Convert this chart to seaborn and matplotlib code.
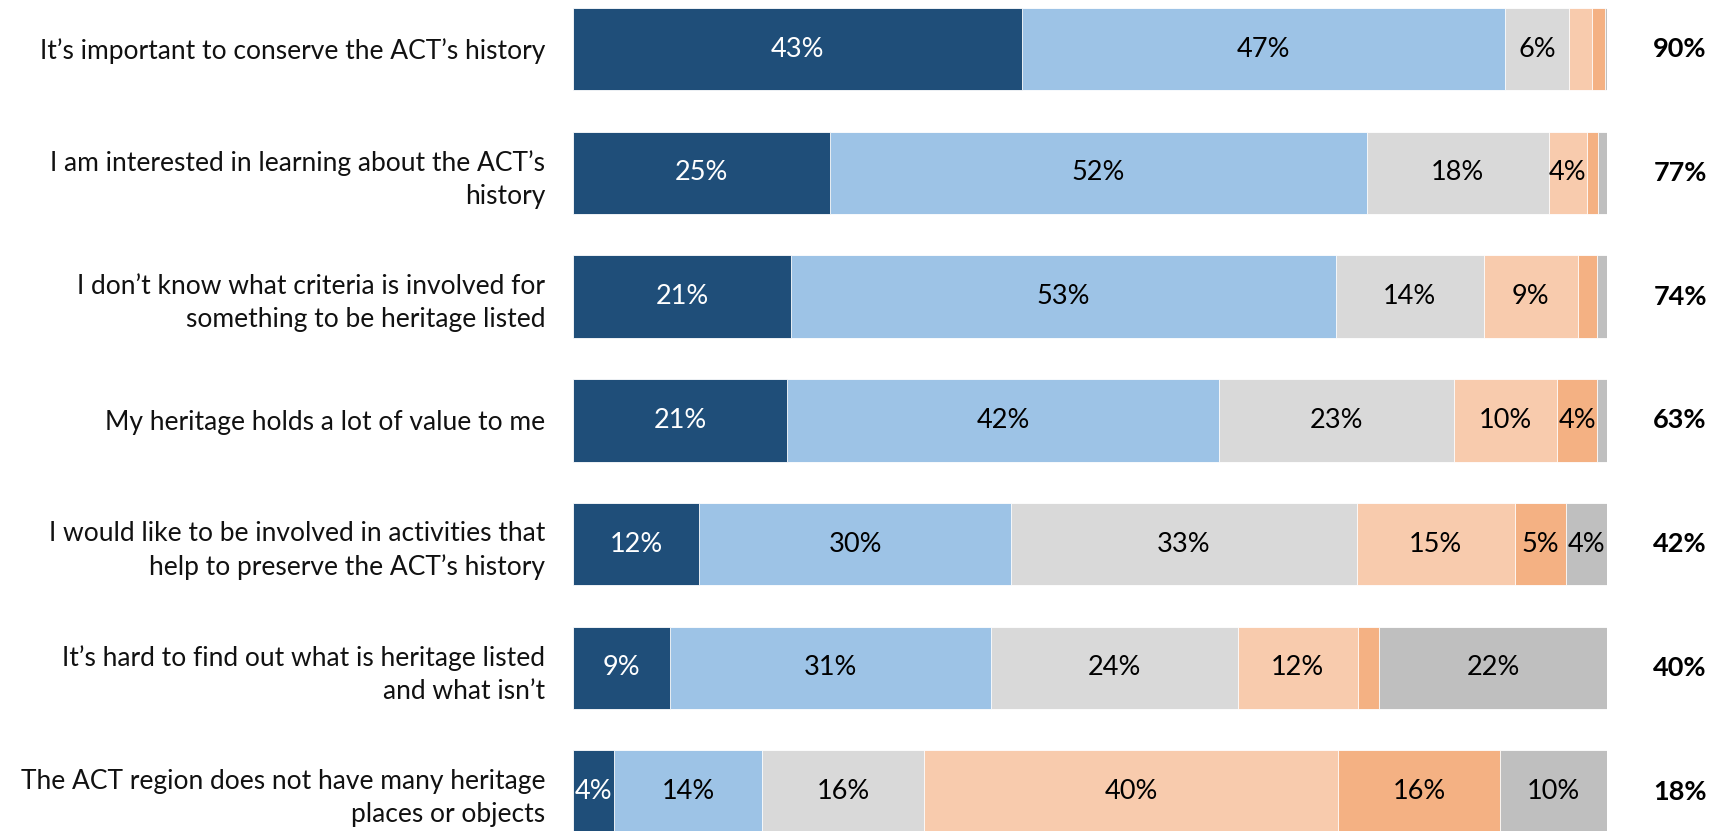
import matplotlib
matplotlib.use("Agg")
import matplotlib.pyplot as plt
import seaborn as sns
import pandas as pd
import numpy as np

categories = [
    "It’s important to conserve the ACT’s history",
    "I am interested in learning about the ACT’s\nhistory",
    "I don’t know what criteria is involved for\nsomething to be heritage listed",
    "My heritage holds a lot of value to me",
    "I would like to be involved in activities that\nhelp to preserve the ACT’s history",
    "It’s hard to find out what is heritage listed\nand what isn’t",
    "The ACT region does not have many heritage\nplaces or objects",
]
strongly_agree = [43.4, 24.9, 21.1, 20.7, 12.2, 9.4, 4.0]
agree = [46.8, 51.9, 52.7, 41.8, 30.2, 31.0, 14.3]
neutral = [6.2, 17.6, 14.3, 22.7, 33.4, 23.9, 15.7]
disagree = [2.2, 3.7, 9.1, 10.0, 15.3, 11.6, 40.0]
strongly_disagree = [1.2, 1.1, 1.9, 3.9, 5.0, 2.1, 15.7]
dont_know = [0.2, 0.8, 0.9, 0.9, 3.9, 22.0, 10.3]
net_agree = [90, 77, 74, 63, 42, 40, 18]

series = [strongly_agree, agree, neutral, disagree, strongly_disagree, dont_know]
colors = ["#1F4E79", "#9DC3E6", "#D9D9D9", "#F8CBAD", "#F4B183", "#BFBFBF"]
text_colors = ["white", "black", "black", "black", "black", "black"]

sns.set_theme(style="white")
plt.rcParams["font.family"] = ["Lato", "DejaVu Sans"]

W, H = 1724, 831
fig = plt.figure(figsize=(W / 100, H / 100), dpi=100)
ax = fig.add_axes([573 / W, 0, (1606.7 - 573) / W, 1])

vals = np.array(series)
cum = np.cumsum(vals, axis=0)

# draw cumulative layers from the longest to the shortest
for k in range(len(series) - 1, -1, -1):
    df = pd.DataFrame({"cat": categories, "x": cum[k]})
    sns.barplot(data=df, x="x", y="cat", orient="h", color=colors[k],
                width=0.667, edgecolor="white", linewidth=0.6,
                saturation=1, ax=ax, order=categories)

for k in range(len(series)):
    for i in range(len(categories)):
        v = vals[k, i]
        if v >= 3.5:
            ax.text(cum[k, i] - v / 2, i, f"{round(v)}%", ha="center", va="center",
                    color=text_colors[k], fontsize=19.5)

for i, n in enumerate(net_agree):
    ax.text(107.1, i, f"{n}%", ha="center", va="center", fontsize=19.5,
            fontweight="bold", color="black", clip_on=False)

ax.set_xlim(0, 100)
ax.set_ylim(6.317, -0.396)
ax.set_xlabel("")
ax.set_ylabel("")
ax.set_xticks([])
for s in ax.spines.values():
    s.set_visible(False)
ax.tick_params(axis="y", length=0, pad=20, labelsize=19, labelcolor="#111111")
for lab in ax.get_yticklabels():
    lab.set_linespacing(1.4)

fig.savefig("out.png", dpi=100)
